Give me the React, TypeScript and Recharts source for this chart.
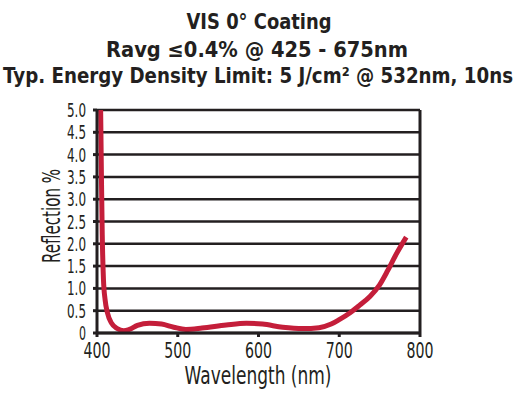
import { LineChart, Line, XAxis, YAxis, CartesianGrid, ReferenceLine, Label } from "recharts";

const FONT = "'DejaVu Sans', sans-serif";
const INK = "#231f20";

const titleLines = [
  "VIS 0° Coating",
  "Ravg ≤0.4% @ 425 - 675nm",
  "Typ. Energy Density Limit: 5 J/cm² @ 532nm, 10ns",
];

// wavelength (nm) and reflection (%)
const wavelengths = [404.5, 405.5, 406.5, 408, 410, 413, 418, 425, 433, 440, 450, 465, 480, 495, 510, 530, 560, 585, 605, 630, 655, 675, 690, 700, 713, 725, 738, 750, 760, 770, 783];
const reflection = [5.0, 3.5, 2.2, 1.2, 0.75, 0.45, 0.22, 0.1, 0.05, 0.08, 0.17, 0.22, 0.2, 0.13, 0.08, 0.11, 0.18, 0.22, 0.2, 0.13, 0.1, 0.12, 0.2, 0.3, 0.45, 0.62, 0.82, 1.08, 1.4, 1.75, 2.15];

const xTicks = [400, 500, 600, 700, 800];
const yTicks = [0, 0.5, 1, 1.5, 2, 2.5, 3, 3.5, 4, 4.5, 5];

const data = wavelengths.map((w, i) => ({ w, r: reflection[i] }));

// the original uses a condensed face, so squeeze DejaVu with textLength
const XTick = (props: any) => {
  const label = String(props.payload.value);
  return (
    <text x={props.x} y={props.y + 19} textAnchor="middle" fill={INK} fontSize={21} fontFamily={FONT}
      textLength={label.length * 9} lengthAdjust="spacingAndGlyphs">
      {label}
    </text>
  );
};

const YTick = (props: any) => {
  const v = props.payload.value as number;
  const label = v === 0 ? "0" : v.toFixed(1);
  return (
    <text x={props.x - 5} y={props.y + 7} textAnchor="end" fill={INK} fontSize={19} fontFamily={FONT}
      textLength={v === 0 ? 7 : 19} lengthAdjust="spacingAndGlyphs">
      {label}
    </text>
  );
};

const App = () => {
  return (
    <div style={{ position: "absolute", left: 0, top: 0, width: 516, height: 397, background: "#fff" }}>
      <svg width={516} height={100} style={{ position: "absolute", left: 0, top: 0 }}>
        <text x={259} y={29} textAnchor="middle" fontFamily={FONT} fontWeight="bold" fontSize={21} fill={INK}
          textLength={145} lengthAdjust="spacingAndGlyphs">{titleLines[0]}</text>
        <text x={257} y={57} textAnchor="middle" fontFamily={FONT} fontWeight="bold" fontSize={21} fill={INK}
          textLength={302} lengthAdjust="spacingAndGlyphs">{titleLines[1]}</text>
        <text x={258} y={83} textAnchor="middle" fontFamily={FONT} fontWeight="bold" fontSize={21} fill={INK}
          textLength={510} lengthAdjust="spacingAndGlyphs">{titleLines[2]}</text>
      </svg>
      <LineChart width={516} height={397} data={data} margin={{ top: 110, right: 96, left: 0, bottom: 0 }}>
        <CartesianGrid vertical={false} stroke={INK} strokeWidth={2.5} strokeOpacity={1} />
        <XAxis
          dataKey="w"
          type="number"
          domain={[400, 800]}
          ticks={xTicks}
          height={64}
          stroke={INK}
          strokeWidth={3}
          tickSize={4}
          tick={XTick}
        >
          <Label
            content={() => (
              <text x={258} y={384} textAnchor="middle" fill={INK} fontSize={25} fontFamily={FONT}
                textLength={147} lengthAdjust="spacingAndGlyphs">Wavelength (nm)</text>
            )}
          />
        </XAxis>
        <YAxis
          type="number"
          domain={[0, 5]}
          ticks={yTicks}
          width={97}
          stroke={INK}
          strokeWidth={3}
          tickSize={4}
          interval={0}
          tick={YTick}
        >
          <Label
            content={() => (
              <text x={0} y={0} transform="translate(60,216) rotate(-90)" textAnchor="middle" fill={INK} fontSize={25}
                fontFamily={FONT} textLength={94} lengthAdjust="spacingAndGlyphs">Reflection %</text>
            )}
          />
        </YAxis>
        <ReferenceLine x={800} stroke={INK} strokeWidth={3} />
        <Line
          type="monotone"
          dataKey="r"
          stroke="#c41e3a"
          strokeWidth={5}
          dot={false}
          isAnimationActive={false}
        />
      </LineChart>
    </div>
  );
};

export default App;
